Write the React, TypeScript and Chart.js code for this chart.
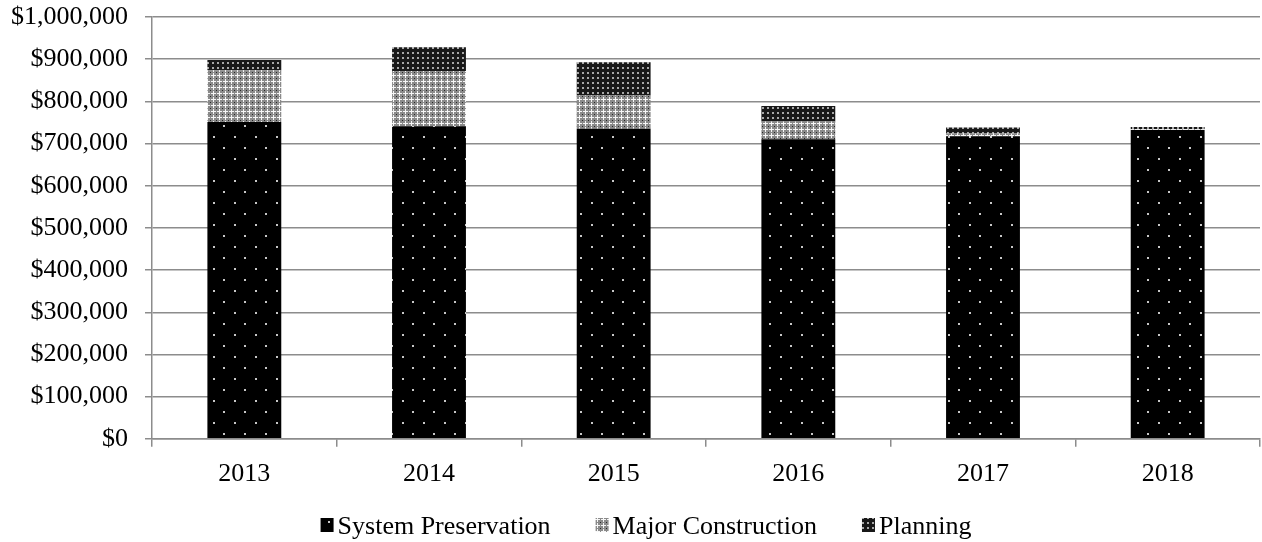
import React, { useEffect, useRef } from "react";
import { Chart, registerables } from "chart.js";

Chart.register(...registerables);

const years = ["2013", "2014", "2015", "2016", "2017", "2018"];
const systemPreservation = [751000, 741000, 735000, 710000, 717000, 732000];
const majorConstruction = [123000, 131000, 79000, 42000, 7000, 2000];
const planning = [24000, 56000, 79000, 37000, 14000, 5000];

const FONT = "'Liberation Serif', 'Times New Roman', serif";
const FONT_SIZE = 26;

// Fill patterns: dotted black, grey lattice, dense dots
function makePattern(w: number, h: number, paint: (g: CanvasRenderingContext2D) => void) {
  const c = document.createElement("canvas");
  c.width = w;
  c.height = h;
  const g = c.getContext("2d")!;
  paint(g);
  return g.createPattern(c, "repeat")!;
}

function dotsPattern() {
  return makePattern(21, 22, (g) => {
    g.fillStyle = "#000";
    g.fillRect(0, 0, 21, 22);
    g.fillStyle = "#c8c8c8";
    g.fillRect(3, 4, 2, 2);
    g.fillRect(13, 15, 2, 2);
  });
}

function latticePattern() {
  return makePattern(6, 6, (g) => {
    g.fillStyle = "#8a8a8a";
    g.fillRect(0, 0, 6, 6);
    g.fillStyle = "#f6f6f6";
    g.fillRect(3, 1, 1, 5);
    g.fillRect(1, 3, 5, 1);
    g.fillStyle = "#262626";
    g.fillRect(0, 0, 1, 1);
  });
}

function densePattern() {
  return makePattern(5, 5, (g) => {
    g.fillStyle = "#181818";
    g.fillRect(0, 0, 5, 5);
    g.fillStyle = "#a8a8a8";
    g.fillRect(2, 2, 2, 2);
  });
}

// Legend row under the axis: small swatch, short gap, label
const legendRow = {
  id: "legendRow",
  afterDraw(chart: Chart) {
    const ctx = chart.ctx;
    const box = 13;
    const gap = 4;
    const spacing = 45;
    const centerX = 646;
    const boxTop = 518;
    const baseline = 534;
    ctx.save();
    ctx.font = `${FONT_SIZE}px ${FONT}`;
    ctx.textBaseline = "alphabetic";
    ctx.textAlign = "left";
    const items = chart.data.datasets.map((ds) => ({
      text: String(ds.label),
      fill: ds.backgroundColor as any,
    }));
    const widths = items.map((it) => box + gap + ctx.measureText(it.text).width);
    const total = widths.reduce((a, b) => a + b, 0) + spacing * (items.length - 1);
    let x = centerX - total / 2;
    items.forEach((it, i) => {
      ctx.fillStyle = it.fill;
      ctx.fillRect(x, boxTop, box, box + 1);
      ctx.fillStyle = "#000";
      ctx.fillText(it.text, x + box + gap, baseline);
      x += widths[i] + spacing;
    });
    ctx.restore();
  },
};

export default function App() {
  const ref = useRef<HTMLCanvasElement>(null);

  useEffect(() => {
    const canvas = ref.current;
    if (!canvas) return;
    Chart.defaults.font.family = FONT;
    Chart.defaults.color = "#000";
    const tickFont = { size: FONT_SIZE, family: FONT };
    const chart = new Chart(canvas, {
      type: "bar",
      data: {
        labels: years,
        datasets: [
          { label: "System Preservation", data: systemPreservation, backgroundColor: dotsPattern() as any, borderWidth: 0 },
          { label: "Major Construction", data: majorConstruction, backgroundColor: latticePattern() as any, borderWidth: 0 },
          { label: "Planning", data: planning, backgroundColor: densePattern() as any, borderWidth: 0 },
        ],
      },
      options: {
        animation: false,
        responsive: false,
        layout: { padding: { left: 10, right: 2, top: 17, bottom: 40 } },
        datasets: { bar: { barPercentage: 0.4, categoryPercentage: 1 } },
        plugins: {
          tooltip: { enabled: false },
          legend: { display: false },
        },
        scales: {
          x: {
            stacked: true,
            offset: true,
            grid: {
              offset: true,
              drawOnChartArea: false,
              drawTicks: true,
              tickLength: 8,
              color: "#8c8c8c",
              lineWidth: 1.5,
            },
            border: { color: "#8c8c8c", width: 1.5 },
            ticks: { padding: 12, font: tickFont, color: "#000" },
          },
          y: {
            stacked: true,
            min: 0,
            max: 1000000,
            afterFit: (scale: any) => {
              scale.width = 142;
              scale.paddingTop = 0;
              scale.paddingBottom = 0;
            },
            grid: { color: "#8c8c8c", lineWidth: 1.5, tickLength: 7 },
            border: { color: "#8c8c8c", width: 1.5 },
            ticks: {
              stepSize: 100000,
              padding: 17,
              font: tickFont,
              color: "#000",
              callback: (v) => "$" + Number(v).toLocaleString("en-US"),
            },
          },
        },
      },
      plugins: [legendRow],
    });
    return () => chart.destroy();
  }, []);

  return (
    <div style={{ position: "fixed", left: 0, top: 0, width: 1262, height: 542, background: "#fff" }}>
      <canvas ref={ref} width={1262} height={542} style={{ display: "block" }} />
    </div>
  );
}
